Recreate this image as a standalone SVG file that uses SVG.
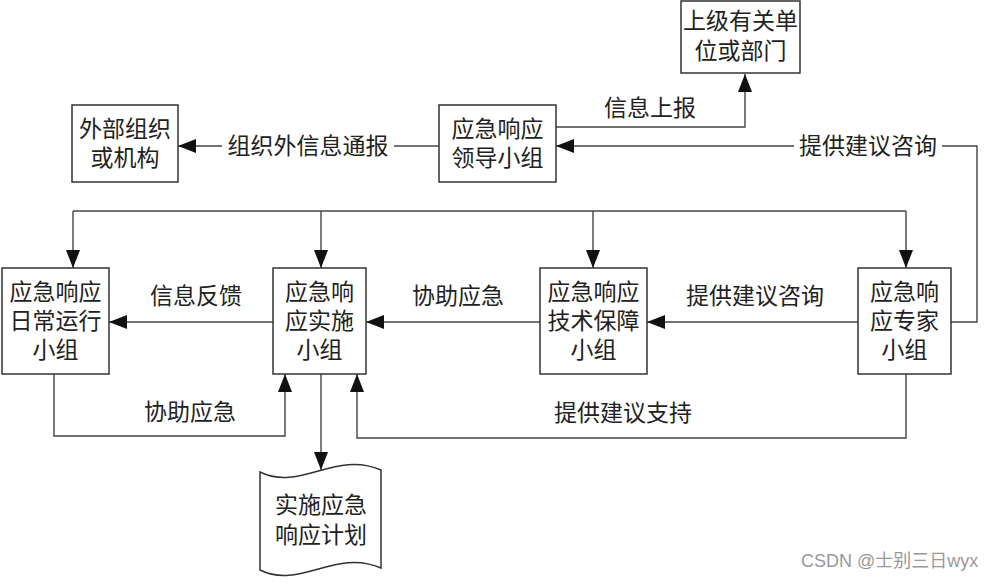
<svg xmlns="http://www.w3.org/2000/svg" width="997" height="585" viewBox="0 0 997 585">
<style>
.box{fill:#fff;stroke:#333;stroke-width:1.5}
.t{font-family:"Liberation Sans","Noto Sans CJK SC",sans-serif;font-size:23px;fill:#222;text-anchor:middle;dominant-baseline:central}
.c{fill:none;stroke:#444;stroke-width:1.4}
.bg{fill:#fff}
.wm{font-family:"Liberation Sans","Noto Sans CJK SC",sans-serif;font-size:18px;fill:#999}
</style>
<defs>
<marker id="ah" viewBox="0 0 18 14" refX="18" refY="7" markerWidth="18" markerHeight="14" markerUnits="userSpaceOnUse" orient="auto">
<path d="M0,0 L18,7 L0,14 z" fill="#111"/>
</marker>
</defs>
<rect width="997" height="585" fill="#fff"/>
<g id="connectors">
<path class="c" d="M556,127 H745 V74" marker-end="url(#ah)"/>
<path class="c" d="M951,322 H977 V146 H556" marker-end="url(#ah)"/>
<path class="c" d="M439,146 H178" marker-end="url(#ah)"/>
<path class="c" d="M73,211 H906"/>
<path class="c" d="M73,211 V268" marker-end="url(#ah)"/>
<path class="c" d="M321,211 V268" marker-end="url(#ah)"/>
<path class="c" d="M593,211 V268" marker-end="url(#ah)"/>
<path class="c" d="M906,211 V268" marker-end="url(#ah)"/>
<path class="c" d="M273,322 H109" marker-end="url(#ah)"/>
<path class="c" d="M540,322 H366" marker-end="url(#ah)"/>
<path class="c" d="M858,322 H647" marker-end="url(#ah)"/>
<path class="c" d="M54,374 V436 H285 V374" marker-end="url(#ah)"/>
<path class="c" d="M906,374 V438 H357 V374" marker-end="url(#ah)"/>
<path class="c" d="M321,374 V470" marker-end="url(#ah)"/>
<g id="labels">
<text class="t" x="650" y="108">信息上报</text>
<rect class="bg" x="794" y="133" width="148" height="26"/>
<text class="t" x="868" y="146">提供建议咨询</text>
<rect class="bg" x="222" y="133" width="172" height="26"/>
<text class="t" x="308" y="146">组织外信息通报</text>
<text class="t" x="196" y="296">信息反馈</text>
<text class="t" x="458" y="296">协助应急</text>
<text class="t" x="755" y="296">提供建议咨询</text>
<text class="t" x="190" y="412">协助应急</text>
<text class="t" x="623" y="413">提供建议支持</text>
</g>
</g>
<g id="node-superior">
<rect class="box" x="681" y="1" width="119" height="72"/>
<text class="t" x="740.5" y="21">上级有关单<tspan x="740.5" dy="30">位或部门</tspan></text>
</g>
<g id="node-external">
<rect class="box" x="72" y="105" width="106" height="77"/>
<text class="t" x="125" y="129">外部组织<tspan x="125" dy="29">或机构</tspan></text>
</g>
<g id="node-leader">
<rect class="box" x="439" y="105" width="117" height="77"/>
<text class="t" x="497.5" y="129">应急响应<tspan x="497.5" dy="29">领导小组</tspan></text>
</g>
<g id="node-daily">
<rect class="box" x="2" y="268" width="107" height="106"/>
<text class="t" x="55.5" y="292">应急响应<tspan x="55.5" dy="29">日常运行</tspan><tspan x="55.5" dy="29">小组</tspan></text>
</g>
<g id="node-implement">
<rect class="box" x="273" y="268" width="93" height="106"/>
<text class="t" x="319.5" y="292">应急响<tspan x="319.5" dy="29">应实施</tspan><tspan x="319.5" dy="29">小组</tspan></text>
</g>
<g id="node-tech">
<rect class="box" x="540" y="268" width="107" height="106"/>
<text class="t" x="593.5" y="292">应急响应<tspan x="593.5" dy="29">技术保障</tspan><tspan x="593.5" dy="29">小组</tspan></text>
</g>
<g id="node-expert">
<rect class="box" x="858" y="268" width="93" height="106"/>
<text class="t" x="904.5" y="292">应急响<tspan x="904.5" dy="29">应专家</tspan><tspan x="904.5" dy="29">小组</tspan></text>
</g>
<g id="node-plan">
<path class="box" d="M260,472 C300,492 335,450 381,470 V568 C335,548 300,590 260,570 Z"/>
<text class="t" x="321" y="505">实施应急<tspan x="321" dy="30">响应计划</tspan></text>
</g>
<text class="wm" x="801" y="567">CSDN @士别三日wyx</text>
</svg>
